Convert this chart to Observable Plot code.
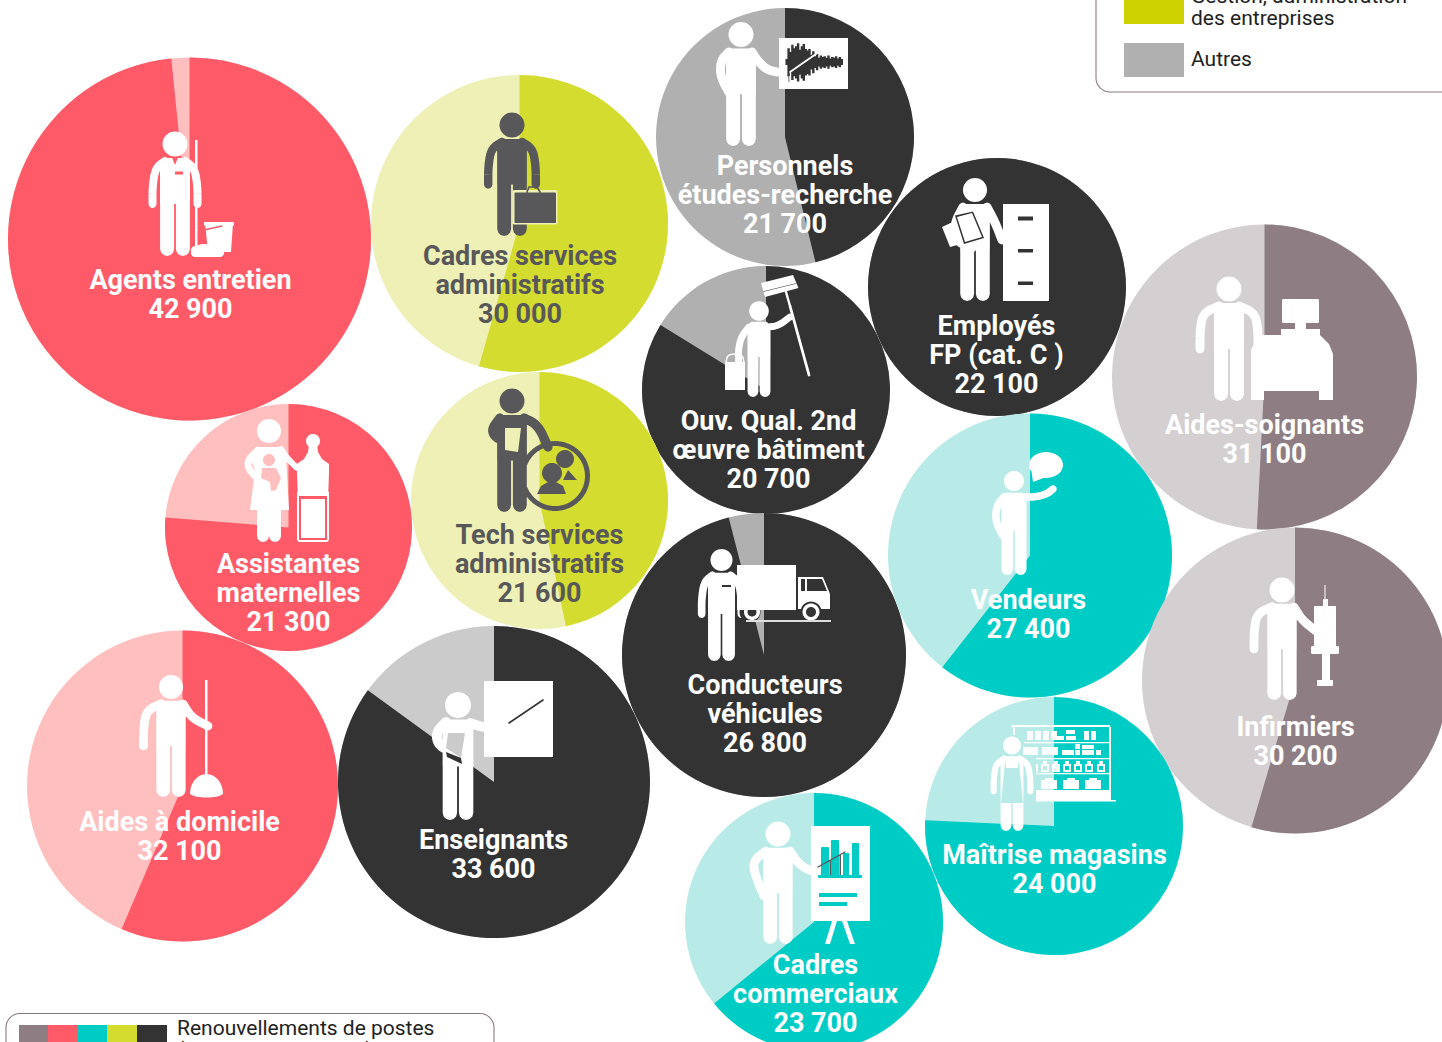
<!DOCTYPE html>
<html lang="fr">
<head>
<meta charset="utf-8">
<script src="https://cdn.jsdelivr.net/npm/d3@7"></script>
<script src="https://cdn.jsdelivr.net/npm/@observablehq/plot@0.6"></script>
<style>html,body{margin:0;padding:0;background:#fff;overflow:hidden}svg{display:block}</style>
</head>
<body>
<div id="chart"></div>
<script>
// --- Data ----------------------------------------------------------------
const jobs = ["Agents entretien\n42 900","Cadres services\nadministratifs\n30 000","Personnels\nétudes-recherche\n21 700","Employés\nFP (cat. C )\n22 100","Ouv. Qual. 2nd\nœuvre bâtiment\n20 700","Aides-soignants\n31 100","Assistantes\nmaternelles\n21 300","Tech services\nadministratifs\n21 600","Conducteurs\nvéhicules\n26 800","Vendeurs\n27 400","Aides à domicile\n32 100","Enseignants\n33 600","Infirmiers\n30 200","Maîtrise magasins\n24 000","Cadres\ncommerciaux\n23 700"];
const keys = ["agents","cadresAdmin","etudes","employes","ouvriers","soignants","assistantes","techAdmin","conducteurs","vendeurs","domicile","enseignants","infirmiers","maitrise","cadresCom"];
const values = [42900,30000,21700,22100,20700,31100,21300,21600,26800,27400,32100,33600,30200,24000,23700];
const renewalShare = [98.4,54.4,46.2,100,83.8,50.8,76.3,46.7,96,60.6,56.4,85,54.6,75.7,64.1];
const families = ["service","gestion","autres","autres","autres","sante","service","gestion","autres","commerce","service","enseignement","sante","commerce","commerce"];
const bubbleX = [189.5,519.5,785,997,766,1264.5,288.5,539.5,764,1030,182.5,494,1295,1054,814];
const bubbleY = [239,223.5,137,287,390,377,527.5,500.5,655,555.5,786,782,680.5,826,922];
const bubbleR = [181.5,148.5,129,129,124,152.5,123.5,128.5,142,142,155.5,156,153,129,129];
const labelX = [190.5,520,785,996.5,768.5,1264.5,288.5,539.5,765,1028.5,179.5,493.5,1295.5,1054.5,815.5];
const labelY = [294,285,195,354.5,450,439.5,593,563.5,714,614.5,836.5,854.5,741.5,869.5,994];

const partKeys = ["sante|dark","sante|light","service|dark","service|light","commerce|dark","commerce|light","gestion|dark","gestion|light","autres|dark","autres|light","enseignement|dark","enseignement|light"];
const partColors = ["#8e7e83","#d4cfd1","#ff5a67","#ffbfbf","#00ccc6","#b8ebe7","#d4dc2f","#eef0b5","#333333","#b0b0b0","#333333","#cbcbcb"];

const bubbles = jobs.map((label,i)=>({key:keys[i],label,value:values[i],share:renewalShare[i],family:families[i],x:bubbleX[i],y:bubbleY[i],lx:labelX[i],ly:labelY[i]}));

const renewalSwatches = [{x1:19.5,x2:48.5,fill:"#8e7e83"},{x1:48.5,x2:78.5,fill:"#ff5a67"},{x1:78.5,x2:107.5,fill:"#00ccc6"},{x1:107.5,x2:137.5,fill:"#d4dc2f"},{x1:137.5,x2:167.5,fill:"#333333"}];
const familySwatches = [{x1:1124.5,x2:1184.5,y1:-30,y2:24.5,fill:"#cdd200"},{x1:1124.5,x2:1184.5,y1:43.5,y2:77.5,fill:"#b0b0b0"}];
const legendTexts = [
  {x:1191,y:-4,t:"Gestion, administration"},{x:1191,y:18,t:"des entreprises"},{x:1191,y:59,t:"Autres"},
  {x:177,y:1028,t:"Renouvellements de postes"},{x:177,y:1050,t:"(départs à la retraite)"}
];

// --- Drawing helpers for pictograms (custom Plot.dot symbols) ----------------
function pen(ctx,ox,oy){
  const g={
    poly(p){let a=0;for(let i=0;i<p.length;i++){const q=p[(i+1)%p.length];a+=p[i][0]*q[1]-q[0]*p[i][1];}
      const s=a<0?[...p].reverse():p;ctx.moveTo(s[0][0]-ox,s[0][1]-oy);for(let i=1;i<s.length;i++)ctx.lineTo(s[i][0]-ox,s[i][1]-oy);ctx.closePath();},
    rect(a,b,c,d){g.poly([[a,b],[c,b],[c,d],[a,d]]);},
    ell(x,y,rx,ry=rx){const p=[];for(let i=0;i<40;i++){const t=i/40*2*Math.PI;p.push([x+rx*Math.cos(t),y+ry*Math.sin(t)]);}g.poly(p);},
    rr(a,b,c,d,r){g.rect(a+r,b,c-r,d);g.rect(a,b+r,c,d-r);for(const [x,y] of [[a+r,b+r],[c-r,b+r],[a+r,d-r],[c-r,d-r]])g.ell(x,y,r);},
    line(p,w){for(let i=0;i<p.length-1;i++){const [x0,y0]=p[i],[x1,y1]=p[i+1];const L=Math.hypot(x1-x0,y1-y0)||1;const nx=(y1-y0)/L*w/2,ny=-(x1-x0)/L*w/2;g.poly([[x0+nx,y0+ny],[x1+nx,y1+ny],[x1-nx,y1-ny],[x0-nx,y0-ny]]);}
      for(const [x,y] of p){const q=[];for(let i=0;i<12;i++){const t=i/12*2*Math.PI;q.push([x+w/2*Math.cos(t),y+w/2*Math.sin(t)]);}g.poly(q);}},
    smooth(p,w){let c=p;for(let k=0;k<3;k++){const n=[c[0]];for(let i=0;i<c.length-1;i++){n.push([.75*c[i][0]+.25*c[i+1][0],.75*c[i][1]+.25*c[i+1][1]],[.25*c[i][0]+.75*c[i+1][0],.25*c[i][1]+.75*c[i+1][1]]);}n.push(c[c.length-1]);c=n;}g.line(c,w);},
    person(hx,hy,hr,foot,left,right,armW=9,armX=25){const s=(foot-hy)/112,X=d=>hx+d*s,Y=d=>hy+d*s;
      g.ell(hx,hy,hr);
      g.poly([[X(-10),Y(14)],[X(10),Y(14)],[X(15),Y(19)],[X(15),Y(60)],[X(-15),Y(60)],[X(-15),Y(19)]]);
      g.line([[X(-7.9),Y(58)],[X(-7.9),Y(105)]],14*s);g.line([[X(7.9),Y(58)],[X(7.9),Y(105)]],14*s);
      const dn=m=>[[X(m*10),Y(17)],[X(m*(armX-3)),Y(24)],[X(m*armX),Y(42)],[X(m*armX),Y(60)]];
      g.smooth(left||dn(-1),armW*s);g.smooth(right||dn(1),armW*s);}
  };
  return g;
}
const sym=(b,fn)=>({draw(ctx){fn(pen(ctx,b.x,b.y));}});
const sector=(a0,a1)=>({draw(ctx,size){const r=Math.sqrt(size/Math.PI);ctx.moveTo(0,0);ctx.arc(0,0,r,a0-Math.PI/2,a1-Math.PI/2);ctx.closePath();}});

const W="#ffffff",GR="#58585a",DK="#333333",RD="#ff5a67",LR="#ffbfbf",TL="#00ccc6",LT="#b8ebe7",LL="#eef0b5";

const shelfRows=g=>{
  g.rect(1011,725,1110,727);g.rect(1013,727,1015,735);g.rect(1109,727,1111,800);
  for(const y of [742,758,773])g.rect(1024,y,1111,y+1.2);
  g.rect(1025,790,1110,800);g.rect(1025,800,1116,801.5);
  for(const x of [1027,1035,1043,1051])g.rect(x,731,x+6,740);
  g.rect(1066,730,1075,734);g.rect(1066,736,1076,740);g.rect(1055,736,1064,740);g.rect(1088-4,731,1089,740);g.rect(1091,731,1096,740);
  g.rect(1023,747,1038,755);g.rect(1042,747,1058,755);g.rect(1062,750,1074,755);g.rect(1075,750,1080,755);g.rect(1082,745,1094,749);g.rect(1082,750,1094,755);g.rect(1096,750,1101,755);g.rect(1075,744,1080,749);
  for(const x of [1030,1041,1052,1063,1074,1085,1097]){g.rect(x,764,x+8,772);g.rect(x+2,761,x+6,764);}
  for(const x of [1041,1063,1085]){g.rect(x,780,x+16,789);g.rect(x+4,778,x+12,780);}
};

const icons={
  agents:[[W,g=>{g.rect(195,140,197.5,250);g.person(175,144,12.5,256,null,null,8,22.5);g.poly([[205,223],[233,223],[231,252],[208,252]]);g.rect(204,222,234,225.5);g.rr(191,246,224,257,4);g.ell(204,249,9,5);}],
          [RD,g=>{g.rect(175,171.5,183,174.5);g.line([[204,230],[222,226]],1.3);g.poly([[172,157.5],[178,157.5],[175,165]]);}],],
  cadresAdmin:[[GR,g=>{g.person(512,125,12.5,236,null,null,8.5,24);}],
    [LL,g=>{g.rr(512.5,190,557.5,224.5,2);}],
    [GR,g=>{g.rr(514.5,192.5,556,223,1);g.line([[527,192],[529,187],[537,187],[540,192]],1.6);}]],
  etudes:[[W,g=>{g.person(741,34.5,12.5,146,[[729,52],[721,60],[720,76],[731,96]],[[752,52],[757,60],[768,71],[788,73]]);g.rect(779,38,848,89);}],
    [DK,g=>{const h=[4,19,14,24,19,22,26,17,22,25,18,16,18,10,15,8,11,6,9,7,8,6,9,5,7,6,8,5,7,4];h.forEach((d,i)=>g.rect(785.5+i*1.9,62-d*.72,787.9+i*1.9,62+d*.75));g.line([[788,56],[789,82]],.7);}],
    [W,g=>{g.line([[790,72],[816,54]],1.8);}]],
  employes:[[W,g=>{g.person(975,190,12,301,[[963,207],[954,224],[957,242],[972,248]],[[987,207],[995,222],[1002,240]]);g.rect(1003,204,1049,301);g.poly([[942,227],[957,220],[965,243],[950,247]]);}],
    [DK,g=>{g.rect(1018,216.5,1033,220.5);g.rect(1018,249,1033,252.5);g.rect(1018,281.5,1033,285);g.poly([[955,215.5],[973,211.5],[984,238],[964,244]]);}],
    [W,g=>{g.poly([[957,217],[972,213],[982,237],[965,242]]);}]],
  ouvriers:[[W,g=>{g.person(759,311,9.8,397,[[749,327],[741,337],[738,352],[739,368]],[[767,327],[778,326],[790,317]]);g.line([[790,306],[809,375]],2.8);g.line([[786,292],[790,306]],2.4);g.poly([[761,283],[793,275],[798.5,288],[765,297]]);g.rect(725,362,745,390);g.smooth([[726,362],[728,354],[742,354],[744,362]],1.5);}],
    [DK,g=>{g.line([[763.5,291.5],[796,283.5]],.7);}]],
  soignants:[[W,g=>{g.person(1229,289,12.5,401,null,null,9,29);
    g.poly([[1258,335],[1320,335],[1329,344],[1333,354],[1333,400],[1319,400],[1319,391],[1264,391],[1264,400],[1251,400],[1251,350]]);
    g.rr(1282,299,1319,323,1.5);g.rect(1295,323,1306,331);g.rect(1281,329,1320,336);}]],
  assistantes:[[W,g=>{g.ell(269,431,12);
    g.poly([[258,447],[281,447],[286,458],[289,510],[250,510],[255,470],[251,460]]);
    g.line([[263,510],[263,536]],12);g.line([[275,510],[275,536]],12);
    g.smooth([[281,449],[287,458],[297,468]],6);g.smooth([[258,450],[246,462],[252,474],[268,487]],7);
    g.ell(313,441,7);g.poly([[309,444],[317,444],[318,452],[322,459],[329,464],[329,473],[328,500],[298,500],[297,473],[297,464],[304,459],[308,452]]);
    g.rr(297,490,329,542,3);}],
    [RD,g=>{g.rect(299,496,327,499);g.rect(299,499,301,538);g.rect(325,499,327,538);g.rect(299,538,327,540);}],
    [LR,g=>{g.ell(269,460,6);g.poly([[262,468],[276,468],[281,478],[276,490],[271,491],[270,482],[261,478]]);}]],
  techAdmin:[[GR,g=>{g.person(512,401,12.5,512,[[500,418],[491,430],[497,439],[511,442]],[[524,418],[538,425],[548,447]],9.5);
    const c=[];for(let i=0;i<=72;i++){const t=i/72*2*Math.PI;c.push([555+32.5*Math.cos(t),476+32.5*Math.sin(t)]);}g.line(c,5);
    g.ell(565,459,9);g.poly([[568,470],[577,480],[563,480]]);g.ell(552,473,10);g.poly([[537,494],[541,486],[548,482],[556,482],[563,486],[566,494]]);}],
    [LL,g=>{g.poly([[505,428],[521,428],[518,452],[505,450]]);}]],
  conducteurs:[[W,g=>{g.person(721.5,560,11,661,null,null,8.5,22);g.rr(737,565,796,610,1);g.poly([[798,577],[823,577],[830,594],[830,609],[798,609]]);}],
    [DK,g=>{g.rect(722,585,731,587);g.ell(811,612,10.5);g.ell(750,612,10.5);g.poly([[801,579],[805,579],[805,591],[801,591]]);g.poly([[807,579],[822,579],[827,591],[807,591]]);}],
    [W,g=>{g.ell(811,612,8.5);g.rect(737,565,745,610);g.ell(752,612,8);}],
    [DK,g=>{g.ell(811,612,5);g.ell(752,612,4.5);}],
    [W,g=>{g.rect(737,565,796,610);}],
    ["#dddddd",g=>{g.rect(746,620,831,622);}]],
  vendeurs:[[W,g=>{g.person(1014,481,10,575,[[1004,497],[997,505],[995,520],[1003,536]],[[1024,497],[1035,497],[1047,494],[1053,489]]);g.ell(1046,465,17,13);g.poly([[1031,468],[1033,482],[1046,477]]);}]],
  domicile:[[W,g=>{g.person(171,687,12,797,null,[[183,704],[192,718],[208,726]],9,28);g.rect(205,680,207.5,776);
    const d=[];for(let i=0;i<=24;i++){const t=Math.PI+i/24*Math.PI;d.push([206.5+16.5*Math.cos(t),794+20*Math.sin(t)]);}g.poly(d);g.ell(206.5,793,16.5,4.5);}]],
  enseignants:[[W,g=>{g.person(458,705,13,820,[[446,722],[436,732],[438,745],[452,752]],[[470,723],[485,728],[509,724]],9.5);g.rect(484,681,553,757);}],
    ["#cbcbcb",g=>{g.poly([[448,733],[465,733],[461,758],[446,748]]);}],
    [DK,g=>{g.line([[509,723],[543,700]],1.6);g.poly([[446,752],[461,758],[462,764],[447,757]]);}]],
  infirmiers:[[W,g=>{g.person(1282,590,12.5,700,null,[[1294,607],[1302,620],[1316,631]],9,28.5);
    g.rect(1324.5,585,1325.5,600);g.rect(1323,599,1328,607);g.rr(1314,606,1336,647,1);g.rr(1311,646,1339,654,1.5);g.rect(1322,654,1330,681);g.rr(1317,680,1333,686,1);}]],
  maitrise:[[W,g=>{shelfRows(g);}],
    [TL,g=>{for(const x of [1063,1074,1085,1097])g.rect(x+2,766,x+6,770);}],
    [LT,g=>{for(const x of [1030,1041])g.rect(x+2,766,x+6,770);g.ell(1012,745.5,11);g.poly([[1001,757],[1036,757],[1036,805],[1001,805]]);}],
    [W,g=>{g.person(1012,745.5,9,831,null,null,8,24);}],
    [LT,g=>{g.poly([[1005,763],[1019,763],[1023,803],[1001,803]]);}],
    [W,g=>{g.rect(1006,760,1018,768);}]],
  cadresCom:[[W,g=>{g.person(778,834,12.5,944,[[766,851],[753,861],[755,875],[764,896]],[[790,851],[800,866],[817,873]]);g.rect(811,826,870,921);g.poly([[832,921],[837,921],[830,944],[825,944]]);g.poly([[842,921],[847,921],[855,944],[850,944]]);}],
    [TL,g=>{g.rr(821,847,829,876,1);g.rr(831,840,839,876,1);g.rect(843,853,849,876);g.rr(852,843,859,876,1);g.rr(818,875,862,878,1);g.rect(819,893,857,897);g.rect(819,902,847,906);}],
    [GR,g=>{g.line([[818,867],[845,852]],1.4);g.rect(829.5,860,831,875);g.rect(839.5,855,841,875);}]]
};

// --- Plot ---------------------------------------------------------------
const marks=[
  // legends
  Plot.rect([{x1:1096.5,x2:1480,y1:-60,y2:92.5}],{x1:"x1",x2:"x2",y1:"y1",y2:"y2",rx:14,fill:"#fff",stroke:"#8a7a80",strokeWidth:1.1}),
  Plot.rect([{x1:6.5,x2:494.5,y1:1014,y2:1090}],{x1:"x1",x2:"x2",y1:"y1",y2:"y2",rx:14,fill:"#fff",stroke:"#8a7a80",strokeWidth:1.1}),
  Plot.rect(familySwatches,{x1:"x1",x2:"x2",y1:"y1",y2:"y2",fill:d=>d.fill}),
  Plot.rect(renewalSwatches,{x1:"x1",x2:"x2",y1:()=>1025.5,y2:()=>1060,fill:d=>d.fill}),
  Plot.text(legendTexts,{x:"x",y:"y",text:"t",textAnchor:"start",fontSize:21,fontFamily:"Roboto, sans-serif",fill:"#222222"})
];
for(const b of bubbles){
  const a=b.share/100*2*Math.PI;
  marks.push(Plot.dot([b],{x:"x",y:"y",r:"value",fill:d=>d.family+"|light",symbol:sector(0,2*Math.PI-1e-4)}));
  marks.push(Plot.dot([b],{x:"x",y:"y",r:"value",fill:d=>d.family+"|dark",symbol:sector(0,Math.min(a,2*Math.PI-1e-4))}));
}
for(const b of bubbles){
  for(const [color,fn] of icons[b.key]) marks.push(Plot.dot([b],{x:"x",y:"y",r:()=>3,fill:color,stroke:"none",symbol:sym(b,fn)}));
}
marks.push(Plot.text(bubbles,{x:"lx",y:"ly",text:"label",fontFamily:"Roboto, sans-serif",fontWeight:700,fontSize:27,lineHeight:1.07,
  fill:d=>d.family==="gestion"?GR:"#ffffff"}));

const order=d3.range(values.length).sort((a,b)=>values[a]-values[b]);
const chart=Plot.plot({
  width:1442,height:1042,margin:0,
  style:{background:"#fff",overflow:"hidden"},
  x:{axis:null,domain:[0,1442],range:[-0.5,1441.5]},
  y:{axis:null,domain:[0,1042],range:[-0.5,1041.5]},
  r:{type:"linear",domain:order.map(i=>values[i]),range:order.map(i=>bubbleR[i])},
  color:{type:"ordinal",domain:partKeys,range:partColors},
  marks
});
document.getElementById("chart").append(chart);
</script>
</body>
</html>
